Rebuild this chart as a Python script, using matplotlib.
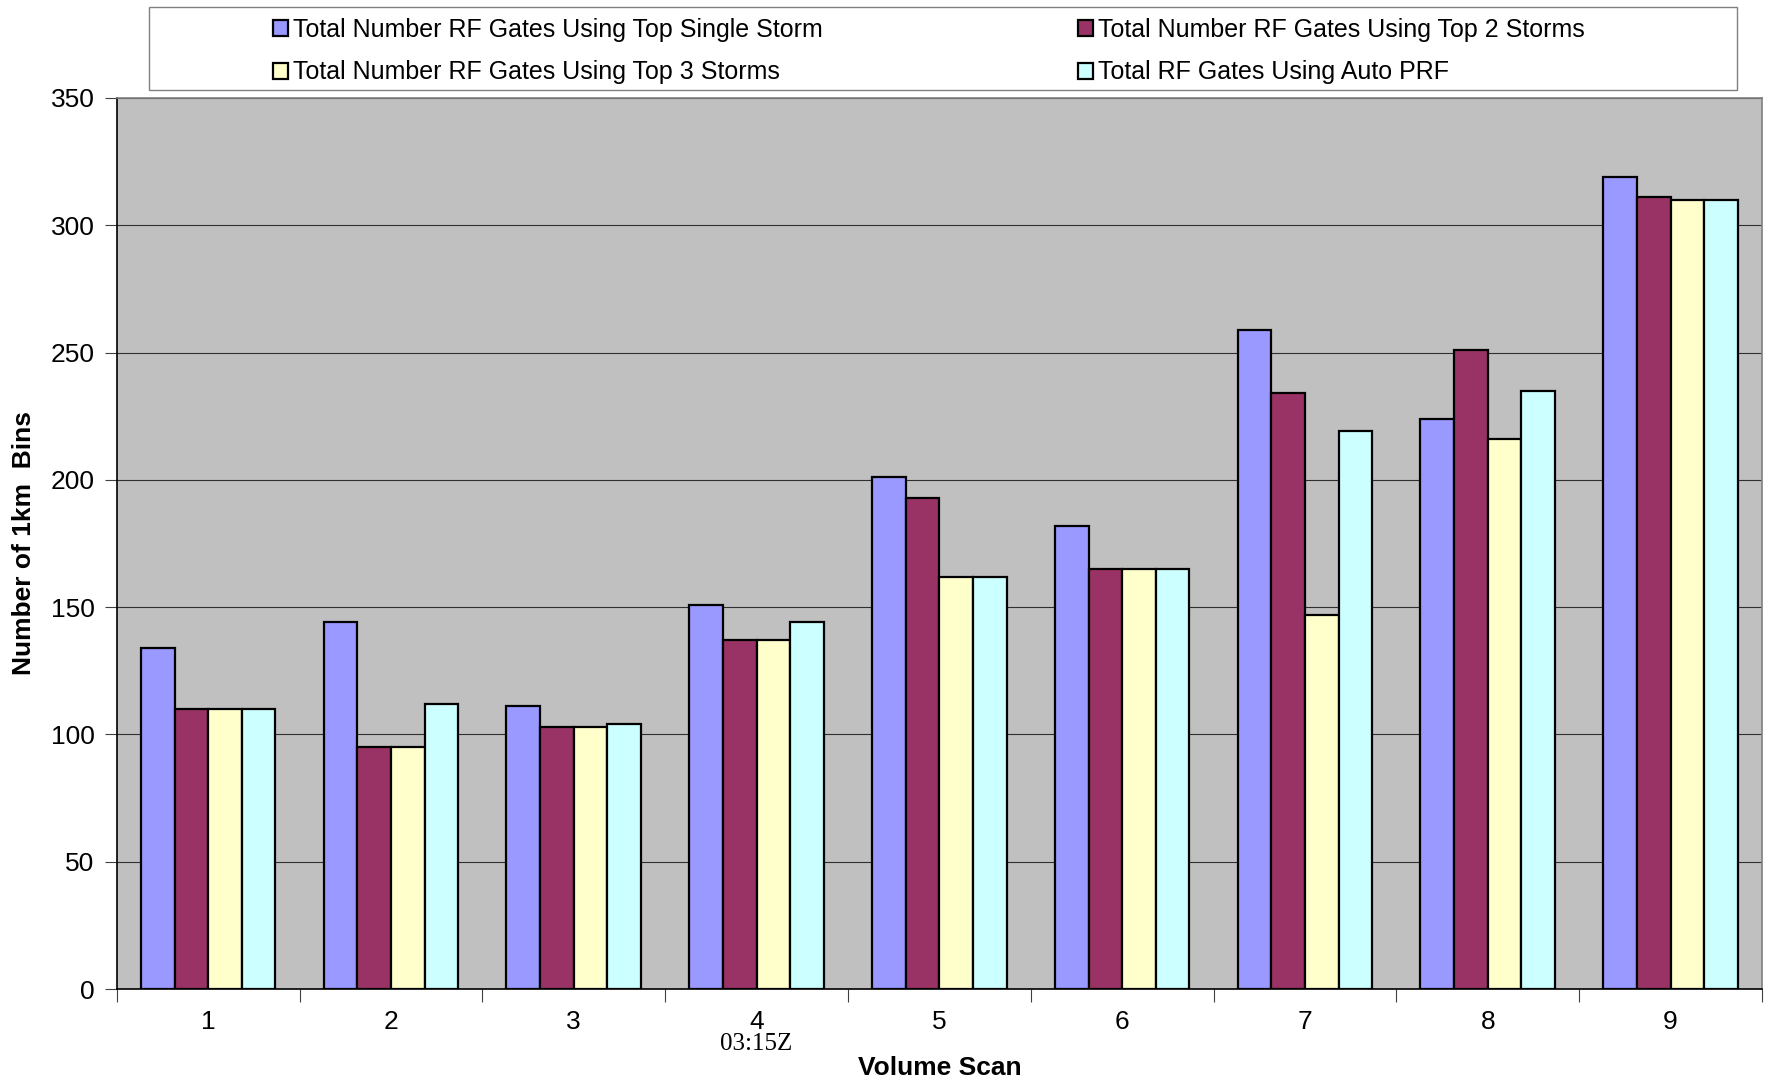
import numpy as np
import matplotlib.pyplot as plt
from matplotlib.patches import Rectangle

plt.rcParams['font.family'] = ['Liberation Sans', 'DejaVu Sans']

scans = ['1', '2', '3', '4', '5', '6', '7', '8', '9']
single = [134, 144, 111, 151, 201, 182, 259, 224, 319]
top2 = [110, 95, 103, 137, 193, 165, 234, 251, 311]
top3 = [110, 95, 103, 137, 162, 165, 147, 216, 310]
auto_prf = [110, 112, 104, 144, 162, 165, 219, 235, 310]

labels = ['Total Number RF Gates Using Top Single Storm',
          'Total Number RF Gates Using Top 2 Storms',
          'Total Number RF Gates Using Top 3 Storms',
          'Total RF Gates Using Auto PRF']
colors = ['#9999FF', '#993366', '#FFFFCC', '#CCFFFF']

fig = plt.figure(figsize=(17.69, 10.86), dpi=100)
ax = fig.add_axes([0.066, 0.0893, 0.930, 0.8205])
ax.set_facecolor('#C0C0C0')

x = np.arange(len(scans))
w = 0.184
series = [single, top2, top3, auto_prf]
handles = []
for j, vals in enumerate(series):
    b = ax.bar(x + (j - 1.5) * w, vals, w, color=colors[j], edgecolor='black',
               linewidth=1.6, label=labels[j], zorder=3)
    handles.append(b)

ax.set_xlim(-0.5, len(scans) - 0.5)
ax.set_ylim(0, 350)
ax.set_yticks(np.arange(0, 351, 50))
ax.yaxis.grid(True, color='#303030', linewidth=0.8, zorder=1)
ax.set_axisbelow(True)

ax.set_xticks(x)
ax.set_xticklabels(scans)
ax.set_xticks(np.arange(-0.5, len(scans), 1.0), minor=True)
ax.tick_params(axis='x', which='major', length=0, pad=15, labelsize=19)
ax.tick_params(axis='x', which='minor', length=9, width=0.8, color='#404040', direction='out')
ax.tick_params(axis='y', length=9, width=0.8, color='#404040', direction='out', pad=7, labelsize=19)

for s in ['left', 'bottom']:
    ax.spines[s].set_color('black')
    ax.spines[s].set_linewidth(1.2)
for s in ['top', 'right']:
    ax.spines[s].set_color('#808080')
    ax.spines[s].set_linewidth(1.2)

ax.set_xlabel('Volume Scan', fontsize=19, fontweight='bold')
ax.xaxis.set_label_coords(0.5, -0.075)
ax.set_ylabel('Number of 1km  Bins', fontsize=19, fontweight='bold')
ax.yaxis.set_label_coords(-0.049, 0.5)

ax.text(3, -0.062, '03:15Z', transform=ax.get_xaxis_transform(), ha='center', va='center',
        fontsize=18, family='Liberation Serif')

# legend frame drawn separately, legend itself centered inside
fig.patches.append(Rectangle((149 / 1769, 1 - 90 / 1086), (1737 - 149) / 1769, 83 / 1086,
                             transform=fig.transFigure, facecolor='white',
                             edgecolor='#808080', linewidth=1.0))
order = [0, 2, 1, 3]
fig.legend([handles[i] for i in order], [labels[i] for i in order], ncol=2,
           loc='center', bbox_to_anchor=(0.525, 0.953), frameon=False, fontsize=18,
           handlelength=0.6, handleheight=0.6, handletextpad=0.2,
           columnspacing=10.2, labelspacing=0.75)

fig.savefig('out.png', dpi=100)
